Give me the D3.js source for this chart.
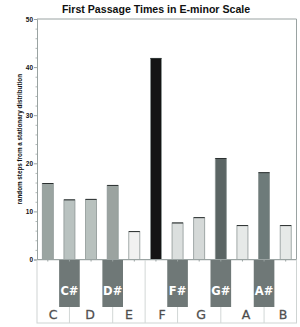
<!DOCTYPE html>
<html><head><meta charset="utf-8">
<script src="https://cdn.jsdelivr.net/npm/d3@7"></script>
<style>html,body{margin:0;padding:0;background:#fff;}svg{display:block;}</style>
</head><body>
<svg id="c" width="300" height="327"></svg>
<script>
const notes = ["C","C#","D","D#","E","F","F#","G","G#","A","A#","B"];
const values = [15.8, 12.4, 12.5, 15.4, 5.8, 41.8, 7.6, 8.7, 21.0, 7.05, 18.05, 7.05];
const colors = ["#9aa4a1","#b9c2c0","#b8c1be","#9ba3a0","#f1f1f1","#141414","#dbdfde","#d5d9d8","#5b6564","#e6e9e8","#6e7b7a","#e6e9e8"];
const yTicks = [0,10,20,30,40,50];
const title = "First Passage Times in E-minor Scale";
const yTitle = "random steps from a stationary distribution";

const svg = d3.select("#c");
const L = 37, R = 296.5, T = 19, B = 259.5;
const x = d3.scaleBand().domain(notes).range([L, R]).paddingInner(0.49).paddingOuter(0.245);
const xb = d3.scaleBand().domain(notes).range([L, R]);
const y = d3.scaleLinear().domain([0, 50]).range([B, T]);

svg.append("text").attr("x", 156).attr("y", 12.5).attr("text-anchor","middle")
  .attr("font-family","Liberation Sans, Arial, sans-serif").attr("font-weight","bold")
  .attr("font-size", 10.6).attr("fill","#111").text(title);

// frame
svg.append("path").attr("d", `M${L},${T}H${R}V${B}`).attr("fill","none").attr("stroke","#9aa3a2").attr("stroke-width",1);

// y axis
const yAxis = d3.axisLeft(y).tickValues(yTicks).tickSize(3).tickFormat(d3.format("d"));
const ga = svg.append("g").attr("transform", `translate(${L},0)`).call(yAxis);
ga.select(".domain").attr("stroke","#9aa3a2");
ga.selectAll(".tick line").attr("stroke","#9aa3a2");
ga.selectAll(".tick text").attr("font-family","Liberation Sans, Arial, sans-serif").attr("font-weight","bold").attr("font-size",6.5).attr("fill","#111").attr("x",-4);
const gm = svg.append("g").attr("transform", `translate(${L},0)`).call(d3.axisLeft(y).tickValues(d3.range(0,51,2).filter(v=>v%10)).tickSize(1.5).tickFormat(""));
gm.select(".domain").remove();
gm.selectAll(".tick line").attr("stroke","#b0b8b7");

svg.append("text").attr("transform", `translate(22,${(T+B)/2}) rotate(-90)`).attr("text-anchor","middle")
  .attr("font-family","Liberation Sans, Arial, sans-serif").attr("font-weight","bold").attr("font-size",6.3).attr("fill","#111").text(yTitle);

// bars
svg.selectAll("rect.bar").data(notes).join("rect").attr("class","bar")
  .attr("x", d => x(d)).attr("width", x.bandwidth())
  .attr("y", (d,i) => y(values[i])).attr("height", (d,i) => B - y(values[i]))
  .attr("fill", (d,i) => colors[i]).attr("stroke", "#8e9796").attr("stroke-width", 0.8);
svg.selectAll("line.top").data(notes).join("line").attr("class","top")
  .attr("x1", d => x(d)).attr("x2", d => x(d) + x.bandwidth())
  .attr("y1", (d,i) => y(values[i])).attr("y2", (d,i) => y(values[i]))
  .attr("stroke", "#2a2f2f").attr("stroke-width", 1);

// keyboard
const kTop = B + 0.5, kBot = 323;
svg.append("rect").attr("x", L).attr("y", kTop).attr("width", R - L).attr("height", kBot - kTop)
  .attr("fill","#fff").attr("stroke","#cfd4d3").attr("stroke-width",1);
// white-key dividers
const whites = notes.filter(n => !n.includes("#"));
const dividers = ["C#","D#","F#","G#","A#"].map(n => xb(n) + xb.bandwidth()/2);
dividers.push(xb("F"));
svg.selectAll("line.div").data(dividers).join("line").attr("class","div")
  .attr("x1", d => d).attr("x2", d => d).attr("y1", kTop).attr("y2", kBot)
  .attr("stroke","#d2d7d6").attr("stroke-width",1);
// black keys
const blacks = notes.filter(n => n.includes("#"));
svg.selectAll("rect.bk").data(blacks).join("rect").attr("class","bk")
  .attr("x", d => xb(d) + 0.5).attr("width", xb.bandwidth() - 1)
  .attr("y", kTop).attr("height", 307 - kTop).attr("fill","#6f7877");
svg.selectAll("text.bk").data(blacks).join("text").attr("class","bk")
  .attr("x", d => xb(d) + xb.bandwidth()/2).attr("y", 295).attr("text-anchor","middle")
  .attr("font-family","DejaVu Sans, sans-serif").attr("font-weight","bold").attr("font-size",11.5)
  .attr("fill","#fff").text(d => d);
// white key labels
const wCenters = {C:53, D:90, E:129, F:162, G:201, A:246, B:283};
svg.selectAll("text.wk").data(whites).join("text").attr("class","wk")
  .attr("x", d => wCenters[d]).attr("y", 319).attr("text-anchor","middle")
  .attr("font-family","DejaVu Sans, sans-serif").attr("font-size",12.5)
  .attr("fill","#444").attr("stroke","#666").attr("stroke-width",0.3).text(d => d);
// x ticks
svg.selectAll("line.xt").data(notes).join("line").attr("class","xt")
  .attr("x1", d => xb(d) + xb.bandwidth()/2).attr("x2", d => xb(d) + xb.bandwidth()/2)
  .attr("y1", B).attr("y2", B + 2).attr("stroke","#9aa3a2");
svg.append("line").attr("x1", L).attr("x2", R).attr("y1", B).attr("y2", B).attr("stroke","#9aa3a2");
</script>
</body></html>
